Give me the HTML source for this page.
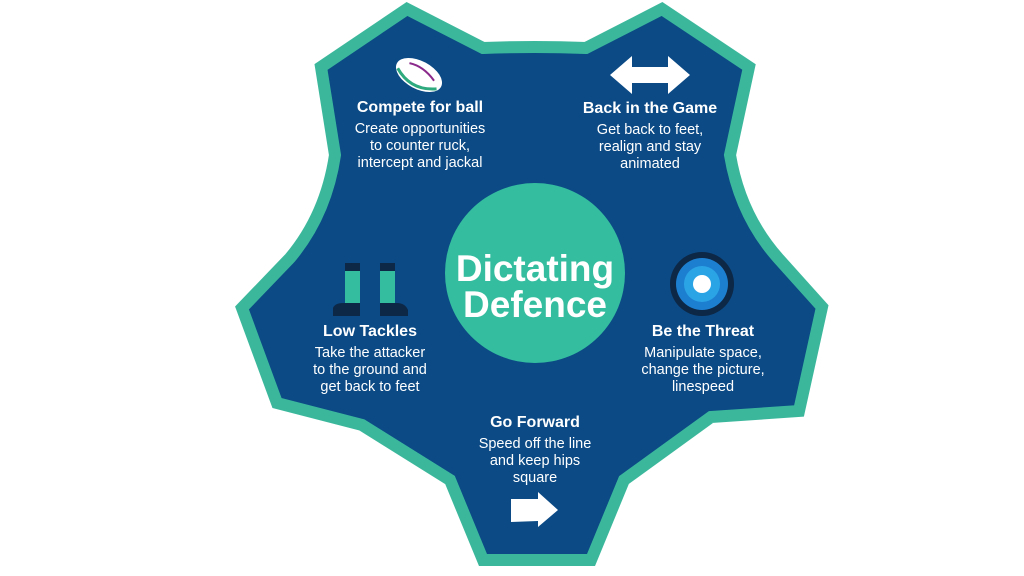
<!DOCTYPE html>
<html><head><meta charset="utf-8"><style>
html,body{margin:0;padding:0;background:#fff;width:1024px;height:576px;overflow:hidden}
svg{display:block}
text{font-family:"Liberation Sans",sans-serif;fill:#fff;text-anchor:middle}
.h{font-weight:bold;font-size:16px}
.b{font-size:14.5px}
</style></head><body>
<svg width="1024" height="576" viewBox="0 0 1024 576">
<path d="M407,9 L483,48 Q535,46 586,48 L662,9 L749,67 L730,155 Q740,215 778,258 L822,307 L799,411 L711,417 L624,480 L591,560 L483,560 L450,480 L362,425 L277,403 L242,308 L290,258 Q326,215 335,155 L321,67 Z" fill="#0b4a85" stroke="#3bb89c" stroke-width="12" stroke-linejoin="miter"/>
<circle cx="535" cy="273" r="90" fill="#35bd9f"/>
<text x="535" y="281" style="font-size:37px;font-weight:bold">Dictating</text>
<text x="535" y="317" style="font-size:37px;font-weight:bold">Defence</text>

<!-- ball -->
<g transform="translate(419,75) rotate(28)">
<ellipse cx="0" cy="0" rx="25" ry="14" fill="#fff"/>
<path d="M-22,4 Q0,18 22,4" stroke="#2eaa7e" stroke-width="3" fill="none"/>
<path d="M-14,-6 Q0,-10 16,-2" stroke="#8b2a8b" stroke-width="2" fill="none"/>
</g>
<text class="h" x="420" y="112">Compete for ball</text>
<text class="b" x="420" y="133">Create opportunities</text>
<text class="b" x="420" y="150">to counter ruck,</text>
<text class="b" x="420" y="167">intercept and jackal</text>

<!-- double arrow -->
<polygon points="610,75 632,56 632,67 668,67 668,56 690,75 668,94 668,83 632,83 632,94" fill="#fff"/>
<text class="h" x="650" y="113">Back in the Game</text>
<text class="b" x="650" y="134">Get back to feet,</text>
<text class="b" x="650" y="151">realign and stay</text>
<text class="b" x="650" y="168">animated</text>

<!-- boots -->
<rect x="345" y="263" width="15" height="8" fill="#0d2746"/>
<rect x="345" y="271" width="15" height="32" fill="#35bd9f"/>
<path d="M333,316 L333,308 Q335,303 343,303 L360,303 L360,316 Z" fill="#0d2746"/>
<rect x="380" y="263" width="15" height="8" fill="#0d2746"/>
<rect x="380" y="271" width="15" height="32" fill="#35bd9f"/>
<path d="M380,303 L397,303 Q405,303 408,310 L408,316 L380,316 Z" fill="#0d2746"/>
<text class="h" x="370" y="336">Low Tackles</text>
<text class="b" x="370" y="357">Take the attacker</text>
<text class="b" x="370" y="374">to the ground and</text>
<text class="b" x="370" y="391">get back to feet</text>

<!-- target -->
<circle cx="702" cy="284" r="32" fill="#0d2746"/>
<circle cx="702" cy="284" r="26" fill="#1d7fd0"/>
<circle cx="702" cy="284" r="18" fill="#2ba4e6"/>
<circle cx="702" cy="284" r="9" fill="#fff"/>
<text class="h" x="703" y="336">Be the Threat</text>
<text class="b" x="703" y="357">Manipulate space,</text>
<text class="b" x="703" y="374">change the picture,</text>
<text class="b" x="703" y="391">linespeed</text>

<text class="h" x="535" y="427">Go Forward</text>
<text class="b" x="535" y="448">Speed off the line</text>
<text class="b" x="535" y="465">and keep hips</text>
<text class="b" x="535" y="482">square</text>
<polygon points="511,499 538,499 538,492 558,510 538,527 538,521 511,522" fill="#fff"/>
</svg>
</body></html>
